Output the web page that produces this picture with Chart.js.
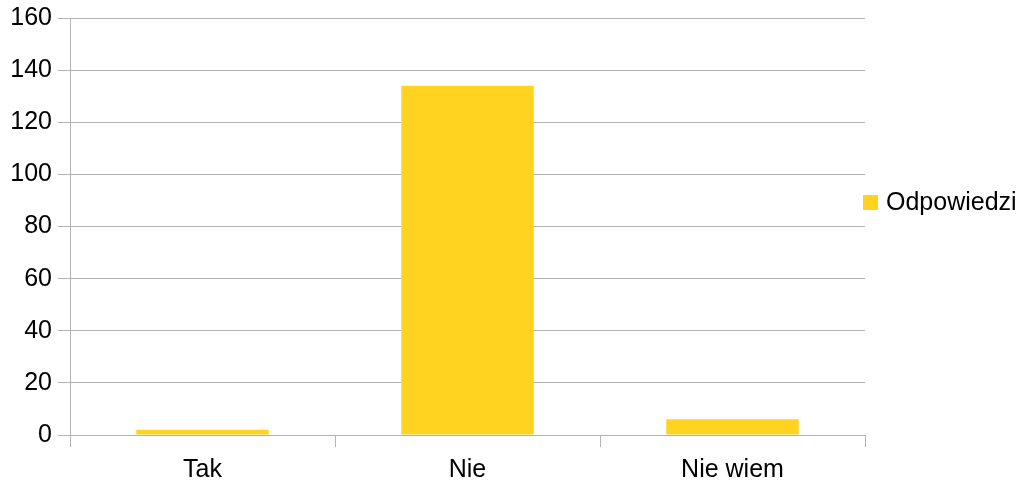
<!DOCTYPE html>
<html>
<head>
<meta charset="utf-8">
<script src="https://cdn.jsdelivr.net/npm/chart.js@4/dist/chart.umd.min.js"></script>
<style>
  html, body { margin: 0; padding: 0; background: #fff; }
  #wrap { width: 1022px; height: 485px; }
</style>
</head>
<body>
<div id="wrap"><canvas id="barChart"></canvas></div>
<script>
/* ─── Data ─── */
const categories = ["Tak", "Nie", "Nie wiem"];
const answers = [2, 134, 6];
const seriesName = "Odpowiedzi";
const yTicks = [0, 20, 40, 60, 80, 100, 120, 140, 160];

const GRID = "#b3b3b3";
const BAR = "#ffd320";
const FONT = { family: "'Liberation Sans', Arial, sans-serif", size: 25 };

/* ─── Legend on the right, drawn by hand ─── */
const sideLegend = {
  id: "sideLegend",
  afterDraw(chart) {
    const c = chart.ctx;
    const area = chart.chartArea;
    const x = area.right - 2;
    const y = 203;
    c.save();
    c.fillStyle = chart.data.datasets[0].backgroundColor;
    c.fillRect(x, y - 8, 15, 15);
    c.fillStyle = "#000";
    c.font = FONT.size + "px " + FONT.family;
    c.textBaseline = "middle";
    c.fillText(chart.data.datasets[0].label, x + 23, y);
    c.restore();
  },
};

/* ─── Bar Chart ─── */
const ctx = document.getElementById("barChart");
Chart.defaults.font = FONT;
Chart.defaults.color = "#000";

new Chart(ctx, {
  type: "bar",
  data: {
    labels: categories,
    datasets: [
      {
        label: seriesName,
        data: answers,
        backgroundColor: BAR,
        categoryPercentage: 0.5,
        barPercentage: 1,
      },
    ],
  },
  options: {
    responsive: true,
    maintainAspectRatio: false,
    animation: false,
    layout: { padding: { top: 0, right: 157, left: 0, bottom: 0 } },
    plugins: {
      legend: { display: false },
      tooltip: { enabled: false },
    },
    scales: {
      x: {
        grid: {
          offset: true,
          color: (c) => (c.index === 0 || c.index === categories.length ? GRID : "transparent"),
          tickColor: GRID,
          tickLength: 12,
        },
        border: { display: false },
        ticks: { padding: 8 },
        afterFit: (s) => { s.height = 50; },
      },
      y: {
        min: 0,
        max: 160,
        afterBuildTicks: (s) => { s.ticks = yTicks.map((v) => ({ value: v })); },
        grid: { color: GRID, tickLength: 12 },
        border: { color: GRID },
        ticks: { padding: 6, font: { lineHeight: 1.2 } },
        afterFit: (s) => { s.width = 70; s.paddingTop = 18; },
      },
    },
  },
  plugins: [sideLegend],
});
</script>
</body>
</html>
